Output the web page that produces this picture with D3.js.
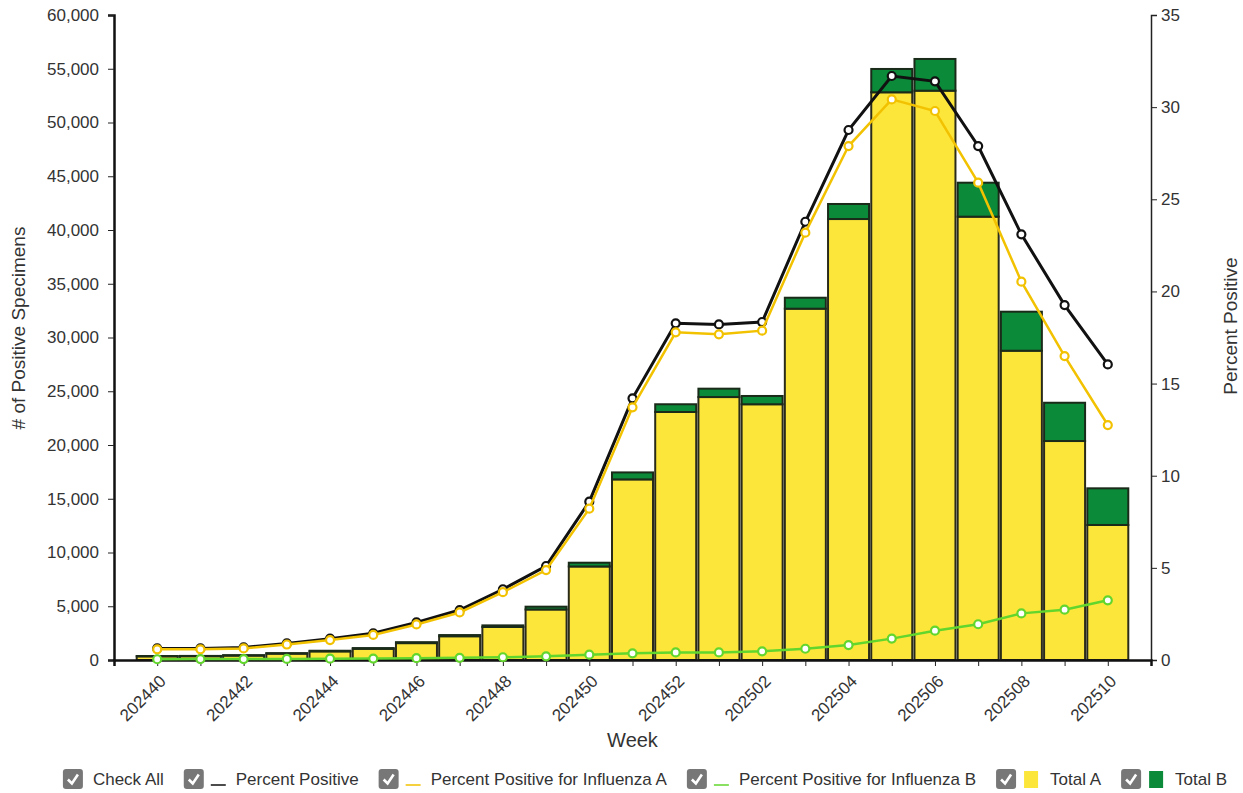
<!DOCTYPE html>
<html lang="en">
<head>
<meta charset="UTF-8">
<title>Influenza positive specimens</title>
<script src="https://d3js.org/d3.v7.min.js"></script>
<style>
  body { margin: 0; background: #fff; }
  text { font-family: "Liberation Sans", Arial, sans-serif; fill: #333; }
</style>
</head>
<body>
<script>

    // data
    var weeks = ['202440', '202441', '202442', '202443', '202444', '202445', '202446', '202447',
        '202448', '202449', '202450', '202451', '202452', '202501', '202502', '202503', '202504',
        '202505', '202506', '202507', '202508', '202509', '202510'];

    var totalA = [340, 350, 410, 590, 800, 1040, 1570, 2210, 3070, 4700, 8700, 16800, 23070,
        24460, 23790, 32680, 41020, 52810, 52960, 41240, 28770, 20370, 12560];
    var totalB = [30, 30, 40, 50, 60, 70, 90, 110, 150, 260, 350, 650, 720,
        780, 770, 1020, 1400, 2170, 2950, 3160, 3630, 3560, 3410];

    var pctPositive = [0.63, 0.63, 0.68, 0.9, 1.16, 1.45, 2.04, 2.71, 3.84, 5.1, 8.59, 14.2, 18.27,
        18.21, 18.34, 23.78, 28.76, 31.69, 31.4, 27.89, 23.1, 19.26, 16.04];
    var pctA = [0.58, 0.58, 0.63, 0.84, 1.08, 1.36, 1.93, 2.58, 3.68, 4.88, 8.21, 13.71, 17.78,
        17.67, 17.87, 23.19, 27.89, 30.42, 29.79, 25.9, 20.53, 16.49, 12.75];
    var pctB = [0.04, 0.05, 0.05, 0.06, 0.07, 0.08, 0.1, 0.12, 0.15, 0.2, 0.29, 0.36, 0.41,
        0.41, 0.47, 0.61, 0.81, 1.16, 1.59, 1.94, 2.53, 2.73, 3.24];

    var legendItems = [
        { label: 'Check All', kind: 'none' },
        { label: 'Percent Positive', kind: 'line', color: '#111' },
        { label: 'Percent Positive for Influenza A', kind: 'line', color: '#f2c200' },
        { label: 'Percent Positive for Influenza B', kind: 'line', color: '#62d62c' },
        { label: 'Total A', kind: 'box', color: '#fde63a' },
        { label: 'Total B', kind: 'box', color: '#0b8a3a' }
    ];

    var W = 1243, H = 793;
    // plot box (note: "top" is reserved on window, so prefixed names)
    var plotL = 114, plotR = 1151, plotT = 15, plotB = 660;

    var svg = d3.select('body').append('svg')
        .attr('width', W)
        .attr('height', H);

    var x = d3.scalePoint()
        .domain(weeks)
        .range([plotL, plotR])
        .padding(1);

    var yCount = d3.scaleLinear().domain([0, 60000]).range([plotB, plotT]);
    var yPct = d3.scaleLinear().domain([0, 35]).range([plotB, plotT]);

    var barW = 41;

    // stacked bars
    var rows = weeks.map(function (w, i) { return { week: w, a: totalA[i], b: totalB[i] }; });

    var bars = svg.append('g').selectAll('g')
        .data(rows)
        .enter().append('g');

    bars.append('rect')
        .attr('x', function (d) { return x(d.week) - barW / 2; })
        .attr('width', barW)
        .attr('y', function (d) { return yCount(d.a); })
        .attr('height', function (d) { return yCount(0) - yCount(d.a); })
        .attr('fill', '#fde63a')
        .attr('stroke', '#2b2b1a')
        .attr('stroke-width', 2);

    bars.append('rect')
        .attr('x', function (d) { return x(d.week) - barW / 2; })
        .attr('width', barW)
        .attr('y', function (d) { return yCount(d.a + d.b); })
        .attr('height', function (d) { return yCount(d.a) - yCount(d.a + d.b); })
        .attr('fill', '#0b8a3a')
        .attr('stroke', '#1a2b1a')
        .attr('stroke-width', 2);

    // axes
    var fmt = d3.format(',');

    var gLeft = svg.append('g')
        .attr('transform', 'translate(' + plotL + ',0)')
        .call(d3.axisLeft(yCount).ticks(12).tickFormat(fmt).tickSizeOuter(6));

    var gRight = svg.append('g')
        .attr('transform', 'translate(' + plotR + ',0)')
        .call(d3.axisRight(yPct).ticks(7).tickSizeOuter(6));

    var gBottom = svg.append('g')
        .attr('transform', 'translate(0,' + plotB + ')')
        .call(d3.axisBottom(x).tickFormat(function (d, i) { return i % 2 === 0 ? d : ''; }));

    [gLeft, gRight, gBottom].forEach(function (g) {
        g.selectAll('text').style('font-size', '17px').attr('fill', '#333');
        g.selectAll('line').attr('stroke', '#222');
    });
    gLeft.select('.domain').attr('stroke', '#111').attr('stroke-width', 2.5);
    gBottom.select('.domain').attr('stroke', '#111').attr('stroke-width', 2.5);
    gRight.select('.domain').attr('stroke', '#222').attr('stroke-width', 1.5);
    gLeft.selectAll('text').attr('x', -15);
    gRight.selectAll('text').attr('x', 10);

    gBottom.selectAll('text')
        .attr('text-anchor', 'end')
        .attr('dy', '0.35em')
        .attr('transform', 'translate(5,18) rotate(-45)')
        .attr('x', 0)
        .attr('y', 0);

    // axis titles
    svg.append('text')
        .attr('transform', 'translate(25,328) rotate(-90)')
        .attr('text-anchor', 'middle')
        .style('font-size', '19px')
        .text('# of Positive Specimens');

    svg.append('text')
        .attr('transform', 'translate(1237,326) rotate(-90)')
        .attr('text-anchor', 'middle')
        .style('font-size', '19px')
        .text('Percent Positive');

    svg.append('text')
        .attr('x', (plotL + plotR) / 2)
        .attr('y', 747)
        .attr('text-anchor', 'middle')
        .style('font-size', '20px')
        .text('Week');

    // percent lines
    var series = [
        { values: pctPositive, color: '#111', width: 3 },
        { values: pctA, color: '#f2c200', width: 2.5 },
        { values: pctB, color: '#62d62c', width: 2.5 }
    ];

    var line = d3.line()
        .x(function (d) { return x(d.week); })
        .y(function (d) { return yPct(d.v); });

    series.forEach(function (s) {
        var pts = weeks.map(function (w, i) { return { week: w, v: s.values[i] }; });
        var g = svg.append('g');
        g.append('path')
            .attr('d', line(pts))
            .attr('fill', 'none')
            .attr('stroke', s.color)
            .attr('stroke-width', s.width);
        g.selectAll('circle')
            .data(pts)
            .enter().append('circle')
            .attr('cx', function (d) { return x(d.week); })
            .attr('cy', function (d) { return yPct(d.v); })
            .attr('r', 4)
            .attr('fill', '#fff')
            .attr('stroke', s.color)
            .attr('stroke-width', 2.2);
    });

    // legend
    var lg = svg.append('g').attr('transform', 'translate(0,779)');
    var gap = 20;
    var cursor = 0;
    var items = lg.selectAll('g')
        .data(legendItems)
        .enter().append('g');

    items.each(function (d) {
        var g = d3.select(this);
        g.append('rect')
            .attr('x', 0).attr('y', -10)
            .attr('width', 20).attr('height', 20)
            .attr('rx', 3)
            .attr('fill', '#777');
        g.append('path')
            .attr('d', 'M5,0.5 L9,4.5 L15,-4.5')
            .attr('fill', 'none')
            .attr('stroke', '#fff')
            .attr('stroke-width', 2.6);
        var tx = 30;
        if (d.kind === 'line') {
            g.append('line')
                .attr('x1', 27).attr('x2', 42)
                .attr('y1', 6).attr('y2', 6)
                .attr('stroke', d.color)
                .attr('stroke-width', 1.5);
            tx = 52;
        } else if (d.kind === 'box') {
            g.append('rect')
                .attr('x', 28).attr('y', -8)
                .attr('width', 14).attr('height', 17)
                .attr('fill', d.color);
            tx = 54;
        }
        var t = g.append('text')
            .attr('x', tx)
            .attr('y', 0)
            .attr('dy', '0.35em')
            .style('font-size', '17px')
            .text(d.label);
        var w = tx + t.node().getComputedTextLength();
        g.attr('transform', 'translate(' + cursor + ',0)');
        cursor += w + gap;
    });

    var total = cursor - gap;
    lg.attr('transform', 'translate(' + (645 - total / 2) + ',779)');

</script>
</body>
</html>
